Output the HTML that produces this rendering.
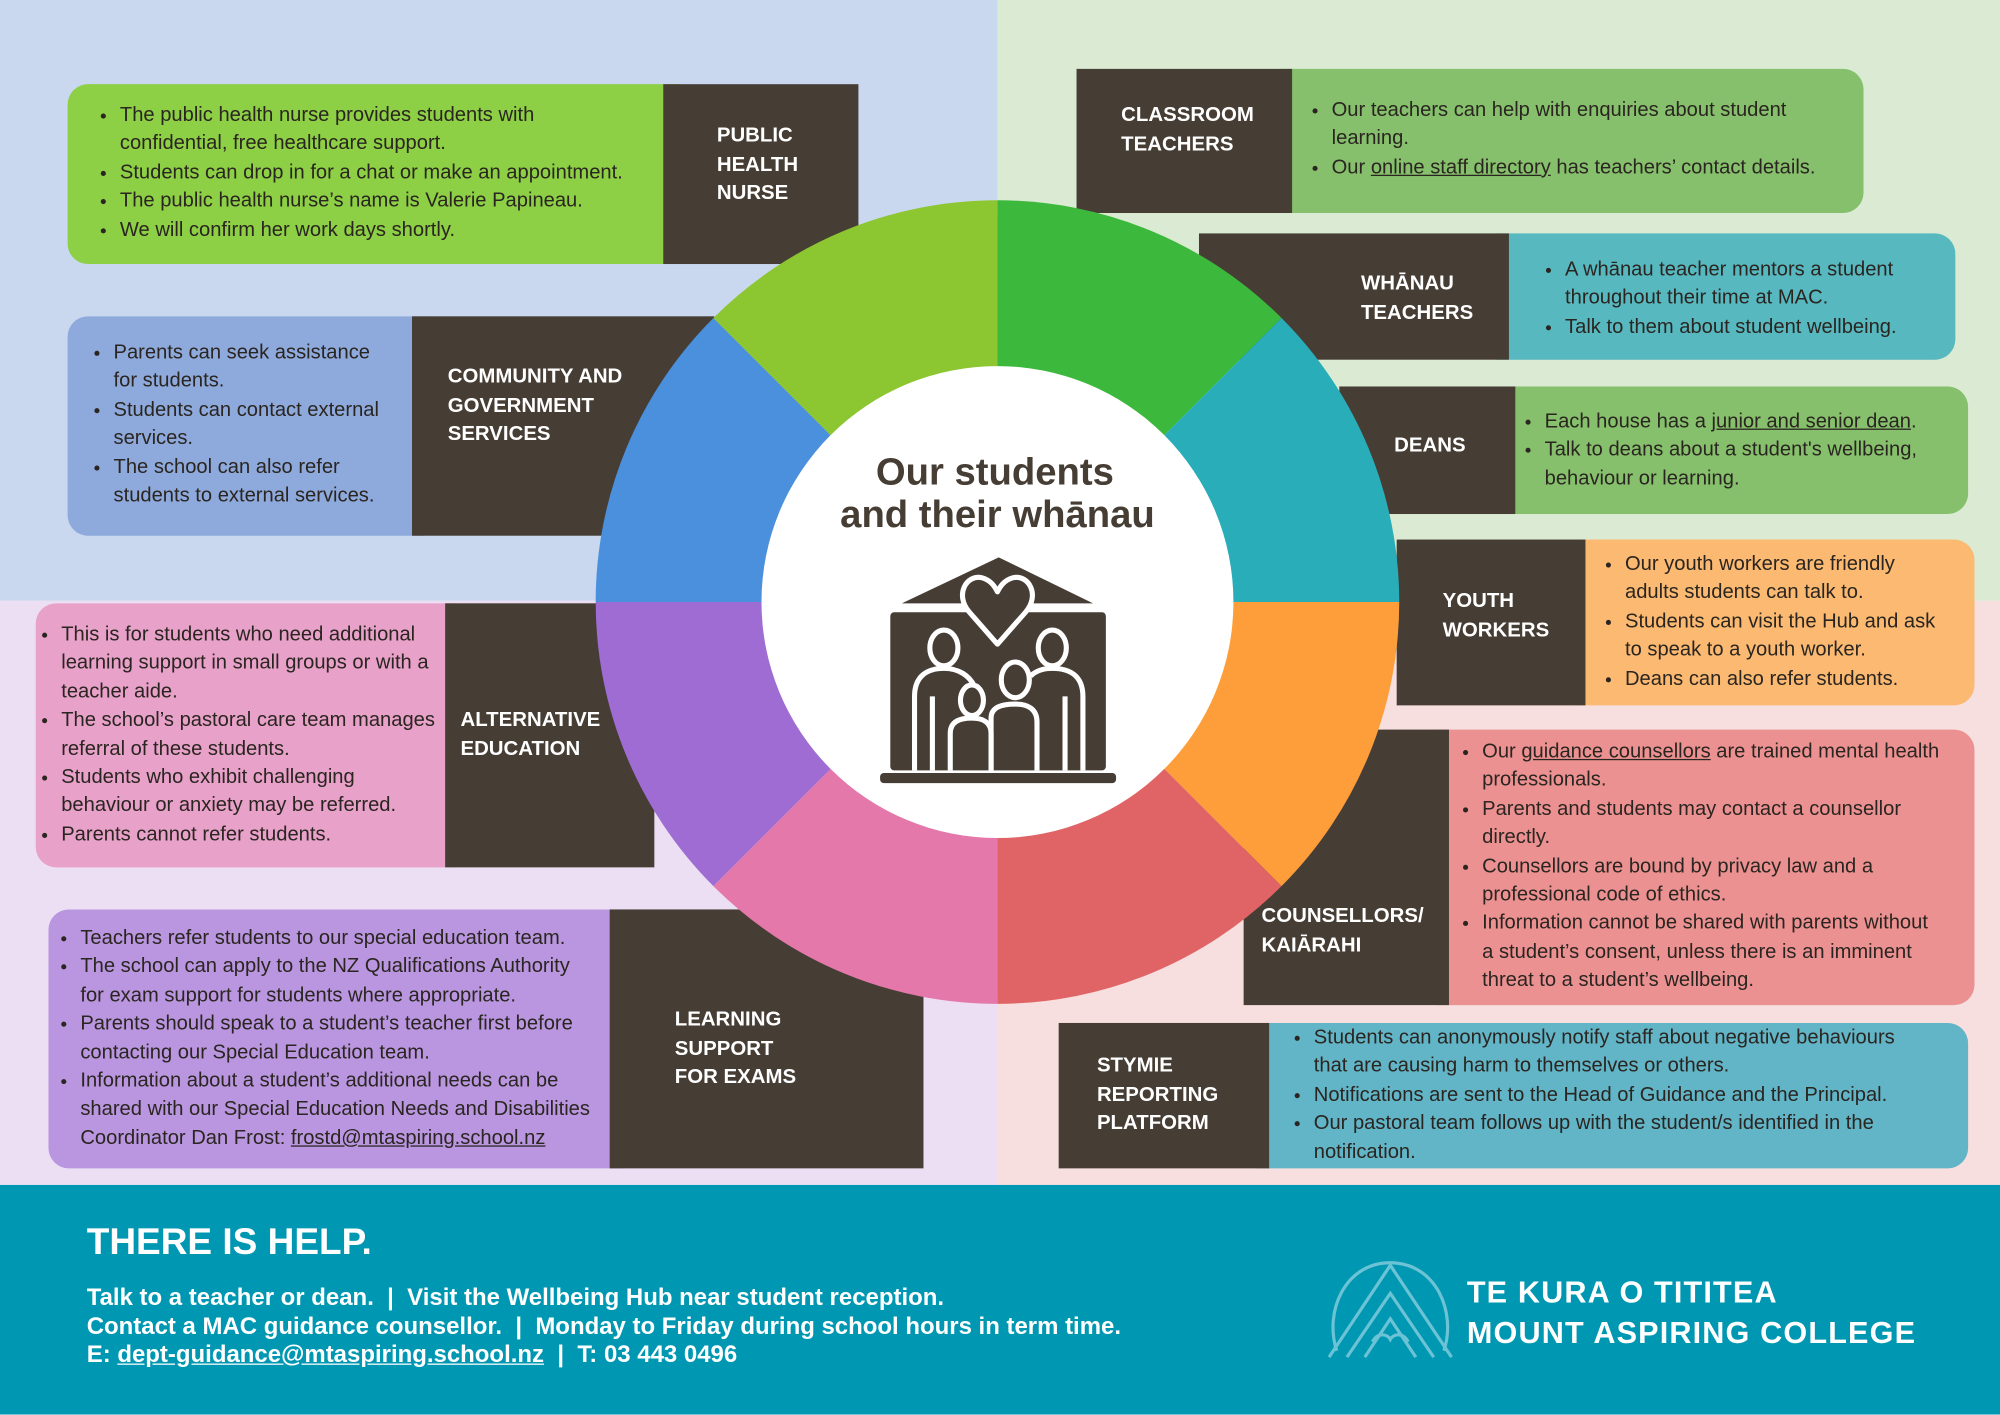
<!DOCTYPE html>
<html><head><meta charset="utf-8">
<style>
html,body{margin:0;padding:0;width:2000px;height:1414px;overflow:hidden;background:#fff}
#s{position:absolute;left:0;top:0;width:1568px;height:1109px;transform:scale(1.27551);transform-origin:0 0;font-family:"Liberation Sans",sans-serif;color:#2a2520}
.a{position:absolute}
.dk{position:absolute;background:#463d34;color:#fff;font-weight:bold;font-size:16px;line-height:22.5px}
.dk span{position:absolute}
.tb{position:absolute;font-size:15.8px;line-height:22.4px;color:#2a2520;white-space:nowrap}
.tb ul{margin:0;padding:0 0 0 20px}
.tb li{margin:0}
u{text-decoration:underline}
</style></head><body><div id="s">
<div class="a" style="left:0;top:0;width:782px;height:471px;background:#c9d8ef"></div>
<div class="a" style="left:782px;top:0;width:786px;height:471px;background:#dbebd3"></div>
<div class="a" style="left:0;top:471px;width:782px;height:458px;background:#ecdff4"></div>
<div class="a" style="left:782px;top:471px;width:786px;height:458px;background:#f6dfde"></div>

<div class="a" style="left:53px;top:66px;width:480px;height:141px;background:#8dcf45;border-radius:16px 0 0 16px"></div>
<div class="dk" style="left:520px;top:66px;width:153px;height:141px"><span style="left:42px;top:30px">PUBLIC<br>HEALTH<br>NURSE</span></div>
<div class="tb" style="left:74px;top:80px"><ul><li>The public health nurse provides students with<br>confidential, free healthcare support.</li><li>Students can drop in for a chat or make an appointment.</li><li>The public health nurse’s name is Valerie Papineau.</li><li>We will confirm her work days shortly.</li></ul></div>

<div class="a" style="left:53px;top:248px;width:280px;height:172px;background:#8eaadc;border-radius:16px 0 0 16px"></div>
<div class="dk" style="left:323px;top:248px;width:237px;height:172px"><span style="left:28px;top:37px">COMMUNITY AND<br>GOVERNMENT<br>SERVICES</span></div>
<div class="tb" style="left:69px;top:266px"><ul><li>Parents can seek assistance<br>for students.</li><li>Students can contact external<br>services.</li><li>The school can also refer<br>students to external services.</li></ul></div>

<div class="a" style="left:28px;top:473px;width:331px;height:207px;background:#e8a1c9;border-radius:16px 0 0 16px"></div>
<div class="dk" style="left:349px;top:473px;width:164px;height:207px"><span style="left:12px;top:81px">ALTERNATIVE<br>EDUCATION</span></div>
<div class="tb" style="left:28px;top:487px"><ul><li>This is for students who need additional<br>learning support in small groups or with a<br>teacher aide.</li><li>The school’s pastoral care team manages<br>referral of these students.</li><li>Students who exhibit challenging<br>behaviour or anxiety may be referred.</li><li>Parents cannot refer students.</li></ul></div>

<div class="a" style="left:38px;top:713px;width:450px;height:203px;background:#b996df;border-radius:16px 0 0 16px"></div>
<div class="dk" style="left:478px;top:713px;width:246px;height:203px"><span style="left:51px;top:76px">LEARNING<br>SUPPORT<br>FOR EXAMS</span></div>
<div class="tb" style="left:43px;top:725px"><ul><li>Teachers refer students to our special education team.</li><li>The school can apply to the NZ Qualifications Authority<br>for exam support for students where appropriate.</li><li>Parents should speak to a student’s teacher first before<br>contacting our Special Education team.</li><li>Information about a student’s additional needs can be<br>shared with our Special Education Needs and Disabilities<br>Coordinator Dan Frost: <u>frostd@mtaspiring.school.nz</u></li></ul></div>

<div class="a" style="left:1003px;top:54px;width:458px;height:113px;background:#86c06c;border-radius:0 16px 16px 0"></div>
<div class="dk" style="left:844px;top:54px;width:169px;height:113px"><span style="left:35px;top:26px">CLASSROOM<br>TEACHERS</span></div>
<div class="tb" style="left:1024px;top:76px"><ul><li>Our teachers can help with enquiries about student<br>learning.</li><li>Our <u>online staff directory</u> has teachers’ contact details.</li></ul></div>

<div class="a" style="left:1173px;top:183px;width:360px;height:99px;background:#57b8c0;border-radius:0 16px 16px 0"></div>
<div class="dk" style="left:940px;top:183px;width:243px;height:99px"><span style="left:127px;top:29px">WHĀNAU<br>TEACHERS</span></div>
<div class="tb" style="left:1207px;top:201px"><ul><li>A whānau teacher mentors a student<br>throughout their time at MAC.</li><li>Talk to them about student wellbeing.</li></ul></div>

<div class="a" style="left:1178px;top:303px;width:365px;height:100px;background:#86c06c;border-radius:0 16px 16px 0"></div>
<div class="dk" style="left:1050px;top:303px;width:138px;height:100px"><span style="left:43px;top:36px">DEANS</span></div>
<div class="tb" style="left:1191px;top:320px"><ul><li>Each house has a <u>junior and senior dean</u>.</li><li>Talk to deans about a student's wellbeing,<br>behaviour or learning.</li></ul></div>

<div class="a" style="left:1233px;top:423px;width:315px;height:130px;background:#fbb971;border-radius:0 16px 16px 0"></div>
<div class="dk" style="left:1095px;top:423px;width:148px;height:130px"><span style="left:36px;top:38px">YOUTH<br>WORKERS</span></div>
<div class="tb" style="left:1254px;top:432px"><ul><li>Our youth workers are friendly<br>adults students can talk to.</li><li>Students can visit the Hub and ask<br>to speak to a youth worker.</li><li>Deans can also refer students.</li></ul></div>

<div class="a" style="left:1126px;top:572px;width:422px;height:216px;background:#ec9191;border-radius:0 16px 16px 0"></div>
<div class="dk" style="left:975px;top:572px;width:161px;height:216px"><span style="left:14px;top:136px">COUNSELLORS/<br>KAIĀRAHI</span></div>
<div class="tb" style="left:1142px;top:579px"><ul><li>Our <u>guidance counsellors</u> are trained mental health<br>professionals.</li><li>Parents and students may contact a counsellor<br>directly.</li><li>Counsellors are bound by privacy law and a<br>professional code of ethics.</li><li>Information cannot be shared with parents without<br>a student’s consent, unless there is an imminent<br>threat to a student’s wellbeing.</li></ul></div>

<div class="a" style="left:985px;top:802px;width:558px;height:114px;background:#62b4c7;border-radius:0 16px 16px 0"></div>
<div class="dk" style="left:830px;top:802px;width:165px;height:114px"><span style="left:30px;top:23px">STYMIE<br>REPORTING<br>PLATFORM</span></div>
<div class="tb" style="left:1010px;top:803px"><ul><li>Students can anonymously notify staff about negative behaviours<br>that are causing harm to themselves or others.</li><li>Notifications are sent to the Head of Guidance and the Principal.</li><li>Our pastoral team follows up with the student/s identified in the<br>notification.</li></ul></div>

<svg class="a" style="left:0;top:0" width="1568" height="1109" viewBox="0 0 1568 1109">
<g transform="translate(782,472)">
<path d="M0,0 L0,-315 A315,315 0 0 1 222.7,-222.7Z" fill="#3cb93c"/>
<path d="M0,0 L222.7,-222.7 A315,315 0 0 1 315,0Z" fill="#29adb9"/>
<path d="M0,0 L315,0 A315,315 0 0 1 222.7,222.7Z" fill="#fe9e3b"/>
<path d="M0,0 L222.7,222.7 A315,315 0 0 1 0,315Z" fill="#e06466"/>
<path d="M0,0 L0,315 A315,315 0 0 1 -222.7,222.7Z" fill="#e478ab"/>
<path d="M0,0 L-222.7,222.7 A315,315 0 0 1 -315,0Z" fill="#9e6cd3"/>
<path d="M0,0 L-315,0 A315,315 0 0 1 -222.7,-222.7Z" fill="#4b90dc"/>
<path d="M0,0 L-222.7,-222.7 A315,315 0 0 1 0,-315Z" fill="#8cc631"/>
<circle r="185" fill="#fff"/>
</g>
<text x="780" y="380" text-anchor="middle" font-family="Liberation Sans,sans-serif" font-weight="bold" font-size="30" fill="#463d34">Our students</text>
<text x="782" y="413" text-anchor="middle" font-family="Liberation Sans,sans-serif" font-weight="bold" font-size="30" fill="#463d34">and their whānau</text>
<g fill="#463d34">
<path d="M783,437 L857,473 L707,473Z"/>
<rect x="698" y="480" width="169" height="124" rx="3"/>
<rect x="690" y="606" width="185" height="8" rx="3"/>
</g>
<g fill="none" stroke="#fff" stroke-width="4" stroke-linejoin="round">
<path d="M782,505 L760,480 C748,466 758,450 770,453 C777,455 780,460 782,464 C784,460 787,455 794,453 C806,450 816,466 804,480Z" fill="#463d34"/>
<ellipse cx="740" cy="508" rx="11" ry="14"/>
<ellipse cx="825" cy="508" rx="11" ry="14"/>
<path d="M717,604 V546 C717,530 727,524 740,524 C752,524 760,530 764,538"/>
<path d="M849,604 V546 C849,530 839,524 825,524 C818,524 812,526 808,530"/>
<path d="M731,604 V546"/>
<path d="M835,604 V546"/>
<ellipse cx="762" cy="549" rx="9" ry="12"/>
<ellipse cx="796" cy="533" rx="11" ry="14"/>
<path d="M745,604 V575 C745,566 752,563 762,563 C770,563 777,566 777,575 V604"/>
<path d="M777,604 V563 C777,555 784,552 796,552 C806,552 813,556 813,566 V604"/>
</g>
</svg>

<div class="a" style="left:0;top:929px;width:1568px;height:180px;background:#0097b2"></div>
<div class="a" style="left:68px;top:956px;color:#fff;font-weight:bold;font-size:29px;line-height:36px">THERE IS HELP.</div>
<div class="a" style="left:68px;top:1006px;color:#fff;font-weight:bold;font-size:18.8px;line-height:22.5px;white-space:nowrap">Talk to a teacher or dean.&nbsp; |&nbsp; Visit the Wellbeing Hub near student reception.<br>Contact a MAC guidance counsellor.&nbsp; |&nbsp; Monday to Friday during school hours in term time.<br>E: <u>dept-guidance@mtaspiring.school.nz</u>&nbsp; |&nbsp; T: 03 443 0496</div>
<svg class="a" style="left:1036px;top:984px" width="110" height="84" viewBox="0 0 110 84">
<g fill="none" stroke="#6cc3d6" stroke-width="2.5">
<path d="M12,75 C2,45 18,6 54,6 C90,6 106,45 96,75"/>
<path d="M6,80 L54,8 L102,80"/>
<path d="M20,80 L54,30 L88,80"/>
<path d="M34,80 L54,50 L74,80"/>
<path d="M40,68 C44,60 52,62 54,66 C56,62 64,60 68,68"/>
</g></svg>
<div class="a" style="left:1150px;top:998px;color:#fff;font-weight:bold;font-size:24px;line-height:32px;letter-spacing:0.9px;white-space:nowrap">TE KURA O TITITEA<br>MOUNT ASPIRING COLLEGE</div>
</div></body></html>
